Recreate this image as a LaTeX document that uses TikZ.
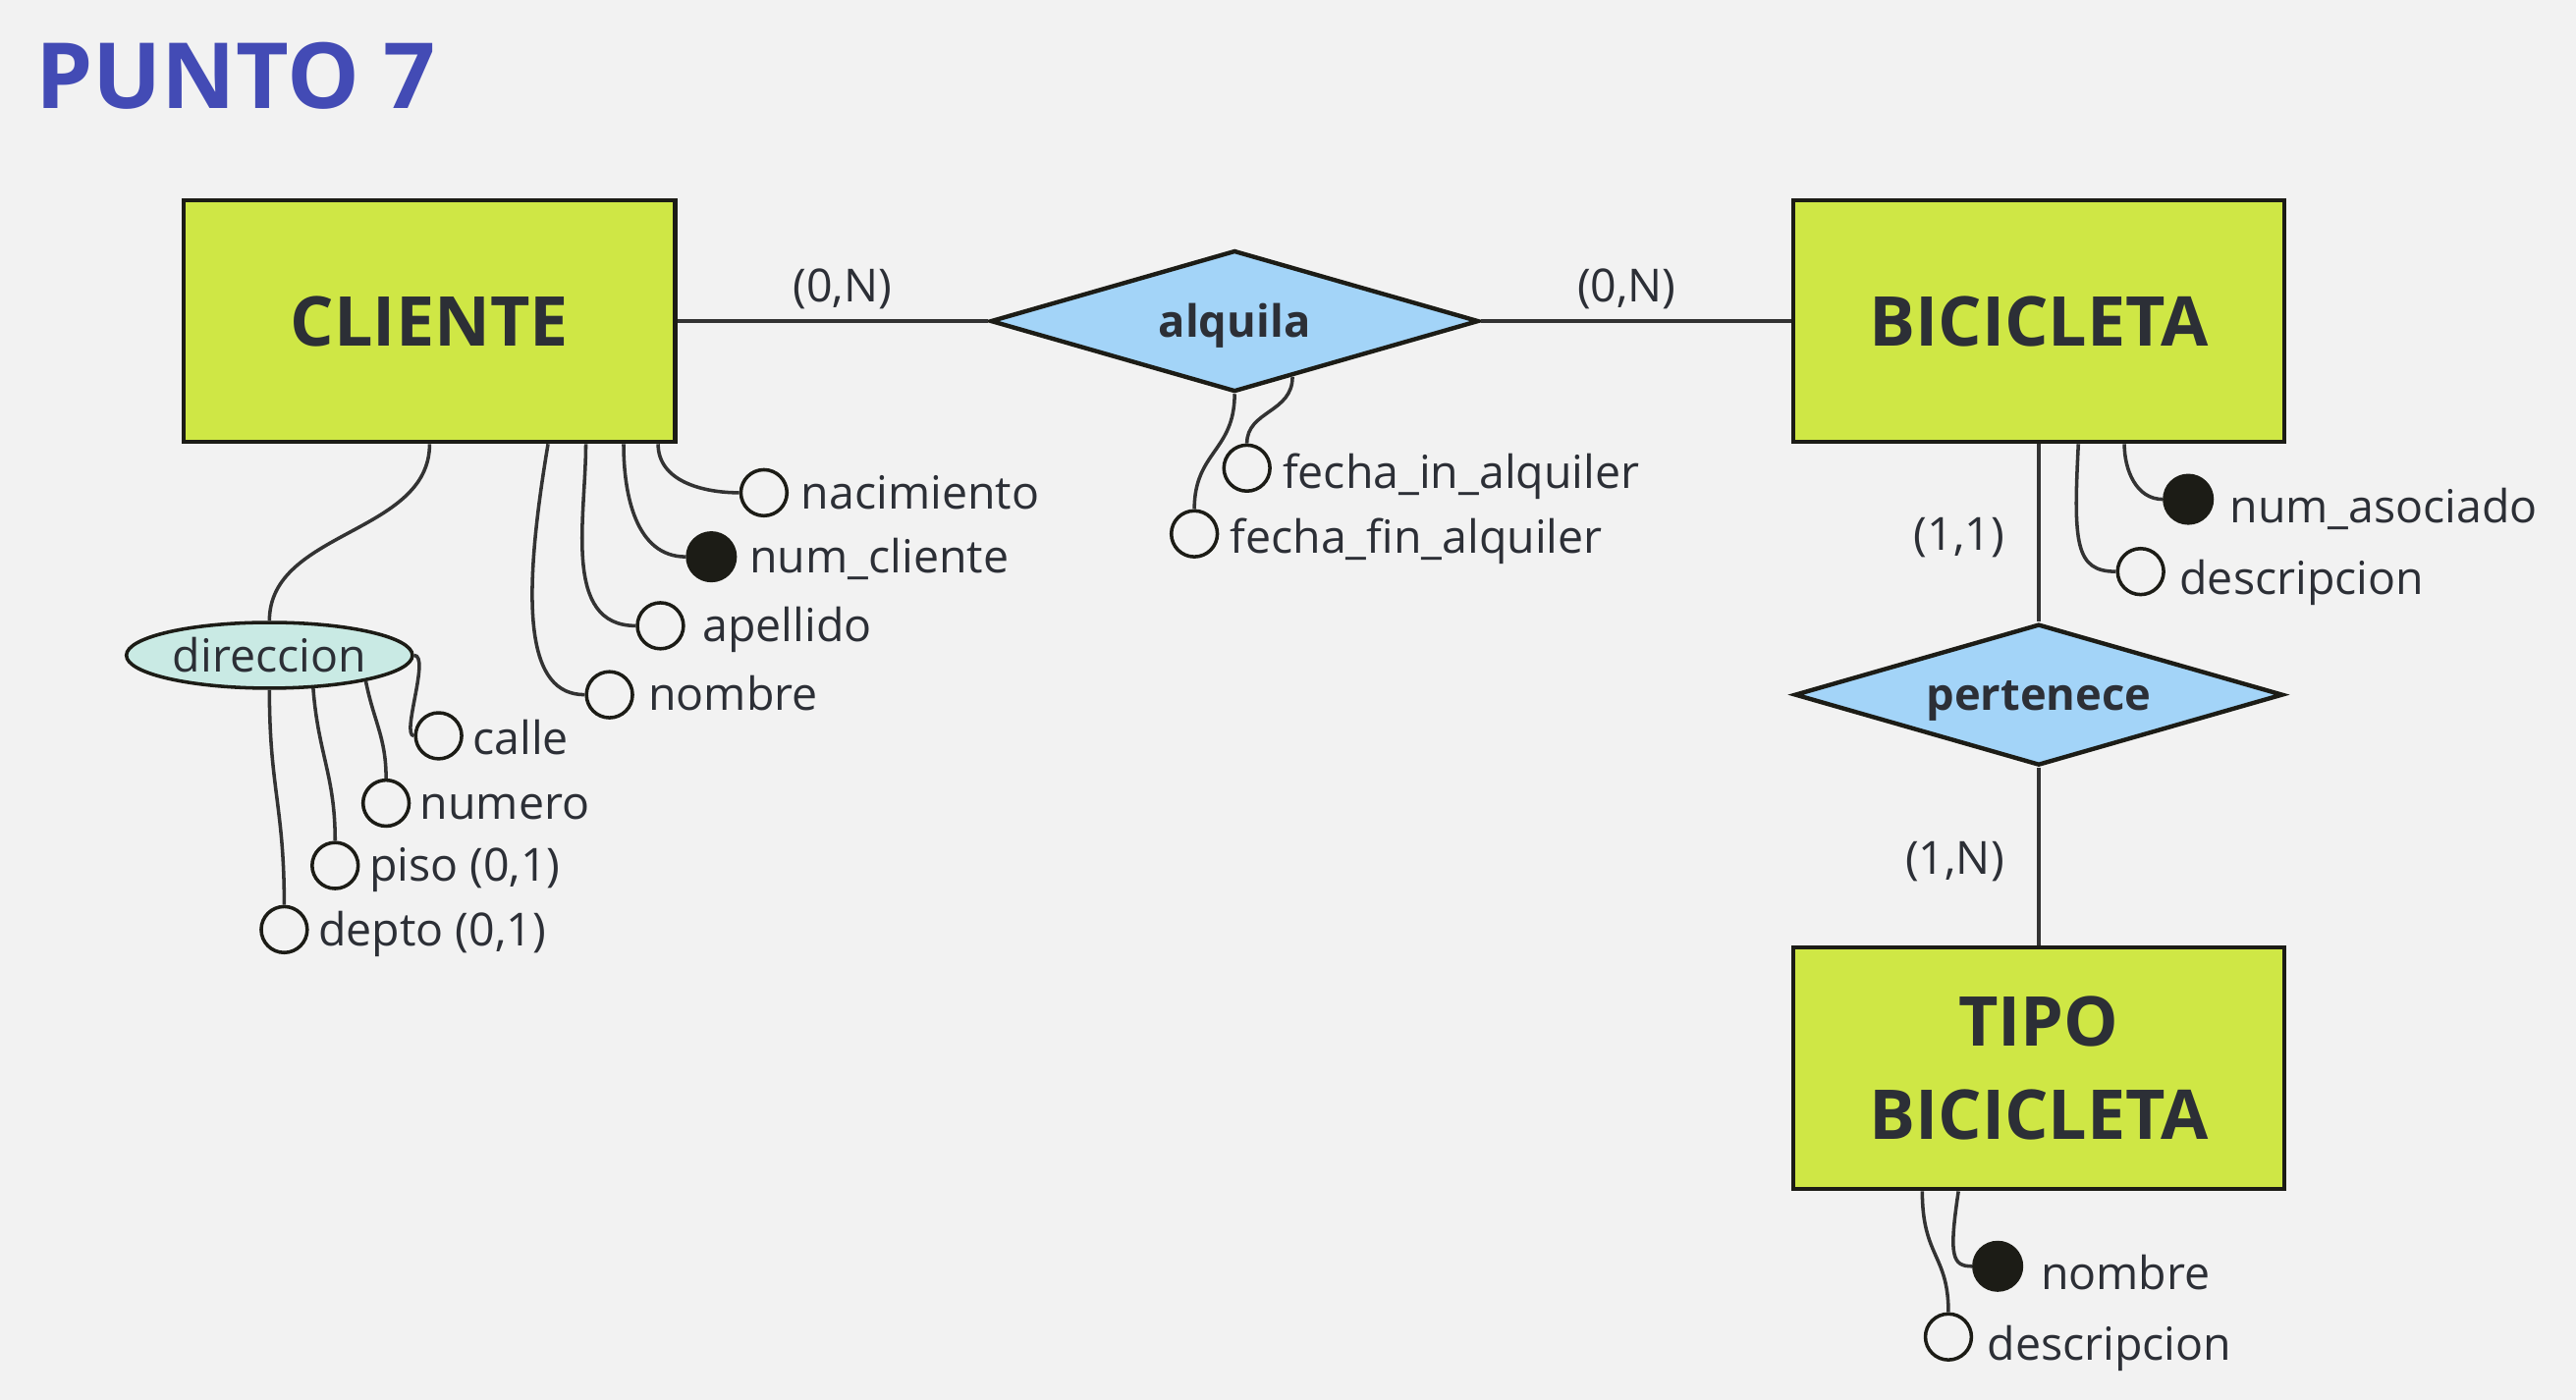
\documentclass[tikz,border=0pt]{standalone}
\usepackage{fontspec}
\setmainfont{Open Sans}
\usepackage{tikz}
\usetikzlibrary{shapes.geometric,calc}
\definecolor{fondo}{HTML}{F2F2F2}
\definecolor{lima}{HTML}{CFE745}
\definecolor{celeste}{HTML}{A3D4F8}
\definecolor{aguamarina}{HTML}{C9EAE4}
\definecolor{titulo azul}{HTML}{434BB5}
\definecolor{tinta}{HTML}{2C2F36}
\definecolor{linea}{HTML}{333333}
\definecolor{borde}{HTML}{1C1C16}

\tikzset{
	entidad/.style={rectangle, draw=borde, fill=lima, line width=0.75pt,
		minimum width=2.99cm, minimum height=1.47cm, align=center, text=tinta,
		font=\fontsize{11.9}{16.2}\selectfont\bfseries},
	relacion/.style={diamond, aspect=3.45, draw=borde, fill=celeste, line width=0.75pt,
		minimum width=2.97cm, minimum height=0.86cm, inner sep=0pt, text=tinta,
		text height=7.3pt, text depth=1.8pt, font=\fontsize{7.7}{9}\selectfont\bfseries},
	compuesto/.style={ellipse, draw=borde, fill=aguamarina, line width=0.6pt,
		minimum width=1.74cm, minimum height=0.4cm, inner sep=0pt, text=tinta,
		font=\fontsize{7.9}{9.5}\selectfont},
	etiqueta/.style={text=tinta, inner sep=0pt, text height=6.2pt,
		text depth=0.7pt, font=\fontsize{7.9}{9.5}\selectfont, xshift=#1},
	etiqueta/.default=0.05cm,
	bajo/.style={yshift=-0.045cm},
	atributo/.style={circle, draw=borde, fill=fondo, line width=0.6pt,
		minimum size=0.28cm, inner sep=0pt},
	clave/.style={atributo, fill=borde, minimum size=0.29cm},
	conector/.style={draw=linea, line width=0.6pt},
	card/.style={text=tinta, inner sep=0pt, font=\fontsize{7.9}{9.5}\selectfont}
}

\begin{document}
\begin{tikzpicture}[x=0.01cm, y=-0.01cm]
		% fondo
		\fill[fondo] (0,0) rectangle (1568,852.4);
		\useasboundingbox (0,0) rectangle (1568,852.4);
		\node[anchor=base west, inner sep=0pt, text=titulo azul,
			font=\fontsize{15.8}{20}\selectfont\bfseries] (titulo) at (21,66) {PUNTO 7};
		% entidades y relaciones
		\node[entidad] (cliente) at (261.5,195.5) {CLIENTE};
		\node[entidad] (bicicleta) at (1241,195.5) {BICICLETA};
		\node[entidad] (tipo) at (1241,650.5) {TIPO\\BICICLETA};
		\node[relacion] (alquila) at (751.5,195.5) {alquila};
		\node[relacion] (pertenece) at (1241,423) {pertenece};
		\draw[conector] (cliente) -- node[card, pos=0.53, above=0.06cm] {(0,N)} (alquila);
		\draw[conector] (alquila) -- node[card, pos=0.47, above=0.06cm] {(0,N)} (bicicleta);
		\draw[conector] (bicicleta) -- node[card, left=0.2cm, yshift=-0.03cm] {(1,1)} (pertenece);
		\draw[conector] (pertenece) -- node[card, left=0.2cm, yshift=-0.03cm] {(1,N)} (tipo);
		% atributos de cliente
		\node[atributo, label={[etiqueta=0.07cm]right:nacimiento}] (nacimiento) at (465,300) {};
		\node[clave, label={[etiqueta=0.07cm]right:num\_cliente}] (numcliente) at (433,339) {};
		\node[atributo, label={[etiqueta=0.1cm]right:apellido}] (apellido) at (402,381) {};
		\node[atributo, label={[etiqueta=0.08cm]right:nombre}] (nombre) at (371,423) {};
		\draw[conector] ($(cliente.south west)+(290,0)$) to[out=-90,in=180] (nacimiento.west);
		\draw[conector] ($(cliente.south west)+(269,0)$) to[out=-90,in=180] (numcliente.west);
		\draw[conector] ($(cliente.south west)+(246,0)$) to[out=-90,in=180] (apellido.west);
		\draw[conector] ($(cliente.south west)+(223,0)$)
			.. controls +(-17,101) and +(-35,0) .. (nombre.west);
		% direccion
		\node[compuesto] (direccion) at (164,399) {direccion};
		\draw[conector] (cliente.south) .. controls +(0,55) and +(0,-55) .. (direccion.north);
		\node[atributo, label={[etiqueta, yshift=-0.02cm]right:calle}] (calle) at (267,448) {};
		\node[atributo, label={[etiqueta]right:numero}] (numero) at (235,489) {};
		\node[atributo, label={[etiqueta]right:piso (0,1)}] (piso) at (204,527) {};
		\node[atributo, label={[etiqueta]right:depto (0,1)}] (depto) at (173,566) {};
		\draw[conector] (direccion.east) .. controls +(10,0) and +(-8,0) .. (calle.west);
		\draw[conector] (direccion.-15) .. controls +(5,25) and +(0,-25) .. (numero.north);
		\draw[conector] (direccion.-37) .. controls +(3,40) and +(0,-40) .. (piso.north);
		\draw[conector] (direccion.south) .. controls +(0,60) and +(0,-60) .. (depto.north);
		% atributos de alquila
		\node[atributo, label={[etiqueta=0.06cm, yshift=-0.025cm]right:fecha\_in\_alquiler}] (fechain) at (759,285) {};
		\node[atributo, label={[etiqueta=0.06cm, yshift=-0.02cm]right:fecha\_fin\_alquiler}] (fechafin) at (727,325) {};
		\draw[conector] ($(alquila.south)!0.235!(alquila.east)$)
			.. controls +(0,22) and +(0,-20) .. (fechain.north);
		\draw[conector] (alquila.south) .. controls +(0,35) and +(0,-35) .. (fechafin.north);
		% atributos de bicicleta
		\node[clave, label={[etiqueta=0.09cm, bajo]right:num\_asociado}] (numasociado) at (1332,304) {};
		\node[atributo, label={[etiqueta=0.08cm, bajo]right:descripcion}] (descbici) at (1303,348) {};
		\draw[conector] ($(bicicleta.south west)+(203,0)$) to[out=-90,in=180] (numasociado.west);
		\draw[conector] ($(bicicleta.south west)+(175,0)$)
			.. controls +(-3,60) and +(-25,0) .. (descbici.west);
		% atributos de tipo bicicleta
		\node[clave, label={[etiqueta=0.1cm, bajo]right:nombre}] (nombretipo) at (1216,771) {};
		\node[atributo, label={[etiqueta=0.08cm, bajo]right:descripcion}] (desctipo) at (1186,814) {};
		\draw[conector] ($(tipo.south west)+(102,0)$)
			.. controls +(-6,40) and +(-12,0) .. (nombretipo.west);
		\draw[conector] ($(tipo.south west)+(80,0)$)
			.. controls +(0,40) and +(0,-35) .. (desctipo.north);
	\end{tikzpicture}
\end{document}
